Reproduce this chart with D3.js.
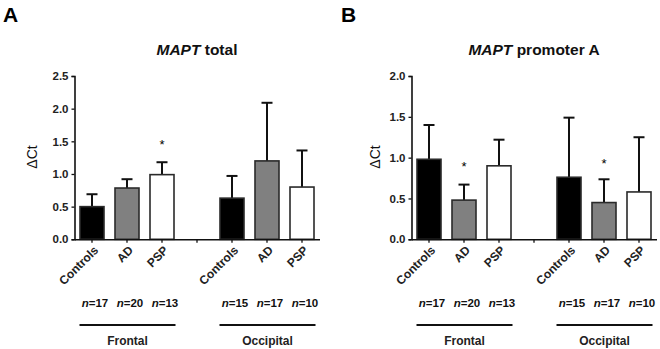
<!DOCTYPE html>
<html><head><meta charset="utf-8">
<script src="https://cdn.jsdelivr.net/npm/d3@7"></script>
<style>
body{margin:0;background:#fff;}
svg{font-family:"Liberation Sans",Arial,sans-serif;font-weight:bold;}
</style></head><body>
<svg id="c" width="660" height="349"></svg>
<script>
// ---- data ----
const categories = ["Controls","AD","PSP","","Controls","AD","PSP"];
const groupColors = ["#000000","#808080","#ffffff","","#000000","#808080","#ffffff"];
const nCounts = ["17","20","13","","15","17","10"];
const regions = ["Frontal","Occipital"];
const totalMeans = [0.50,0.785,0.99,null,0.63,1.20,0.80];
const totalErr   = [0.69,0.92,1.18,null,0.97,2.09,1.36];
const totalStars = [null,null,1.48,null,null,null,null];
const totalTicks = [0.0,0.5,1.0,1.5,2.0,2.5];
const promMeans = [0.98,0.48,0.90,null,0.76,0.45,0.58];
const promErr   = [1.40,0.67,1.22,null,1.49,0.735,1.25];
const promStars = [null,0.91,null,null,null,0.95,null];
const promTicks = [0.0,0.5,1.0,1.5,2.0];

const svg = d3.select("#c");

function panel(opt){
  const g = svg.append("g");
  const x = d3.scaleBand().domain(d3.range(categories.length)).range([opt.x0, opt.x0+245]).paddingInner(0).paddingOuter(0);
  const y = d3.scaleLinear().domain([0, opt.ymax]).range([239.3, 76]);
  const bw = 25;
  // panel letter
  g.append("text").attr("x", opt.letterX).attr("y", 21.5).attr("font-size", 21).text(opt.letter);
  // title
  const t = g.append("text").attr("x", opt.titleX).attr("y", 54.5).attr("font-size", 15.5).attr("text-anchor","middle").attr("fill","#111");
  t.append("tspan").attr("font-style","italic").text("MAPT");
  t.append("tspan").text(" " + opt.title);
  // y axis
  const ya = g.append("g").attr("transform", `translate(${opt.x0},0)`)
    .call(d3.axisLeft(y).tickValues(opt.ticks).tickFormat(d3.format(".1f")).tickSize(3).tickPadding(3));
  ya.select(".domain").attr("stroke","#111").attr("stroke-width",1.6);
  ya.selectAll(".tick line").attr("stroke","#111").attr("stroke-width",1.3);
  ya.selectAll("text").attr("font-size",11.5).attr("font-weight","bold").attr("font-family","Liberation Sans, Arial, sans-serif").attr("fill","#222");
  // y label
  g.append("text").attr("transform", `translate(${opt.ylabX},157) rotate(-90)`).attr("text-anchor","middle").attr("font-size",14).attr("font-weight","normal").attr("fill","#111").text("ΔCt");
  // bars
  const idx = d3.range(categories.length).filter(i => opt.means[i] != null);
  g.selectAll(".err").data(idx).join("g").each(function(i){
    const cx = x(i) + x.bandwidth()/2;
    const s = d3.select(this);
    s.append("line").attr("x1",cx).attr("x2",cx).attr("y1",y(opt.means[i])).attr("y2",y(opt.err[i])).attr("stroke","#111").attr("stroke-width",2);
    s.append("line").attr("x1",cx-5.5).attr("x2",cx+5.5).attr("y1",y(opt.err[i])).attr("y2",y(opt.err[i])).attr("stroke","#111").attr("stroke-width",2);
  });
  g.selectAll(".bar").data(idx).join("rect")
    .attr("x", i => x(i) + (x.bandwidth()-bw)/2 + 0.5)
    .attr("width", bw - 1)
    .attr("y", i => y(opt.means[i]))
    .attr("height", i => y(0) - y(opt.means[i]))
    .attr("fill", i => groupColors[i])
    .attr("stroke", "#2a2a2a").attr("stroke-width", 1.6);
  // x axis
  const xa = g.append("g").attr("transform", "translate(0,239.3)")
    .call(d3.axisBottom(x).tickSize(3.5).tickSizeOuter(0).tickFormat(""));
  xa.select(".domain").attr("stroke","#111").attr("stroke-width",1.6);
  xa.selectAll(".tick line").attr("stroke","#111").attr("stroke-width",1.3);
  // x labels rotated
  g.selectAll(".xl").data(idx).join("text")
    .attr("transform", i => `translate(${x(i)+x.bandwidth()/2+4},248) rotate(-45)`)
    .attr("text-anchor","end").attr("font-size",12).attr("dy","0.35em").attr("fill","#222")
    .text(i => categories[i]);
  // stars
  g.selectAll(".star").data(idx.filter(i => opt.stars[i] != null)).join("text")
    .attr("x", i => x(i)+x.bandwidth()/2).attr("y", i => y(opt.stars[i]) + 6.5)
    .attr("text-anchor","middle").attr("font-size",13).attr("font-weight","normal").text("*");
  // n labels
  g.selectAll(".nl").data(idx).join("text")
    .attr("x", i => x(i)+x.bandwidth()/2+3).attr("y", 307)
    .attr("text-anchor","middle").attr("font-size",11.5).attr("fill","#111")
    .each(function(i){
      const s = d3.select(this);
      s.append("tspan").attr("font-style","italic").text("n");
      s.append("tspan").text("=" + nCounts[i]);
    });
  // region lines
  [[0,2],[4,6]].forEach((r,k) => {
    const xa0 = x(r[0]) + (x.bandwidth()-bw)/2;
    const xa1 = x(r[1]) + (x.bandwidth()+bw)/2 + 1;
    g.append("line").attr("x1",xa0).attr("x2",xa1).attr("y1",325).attr("y2",325).attr("stroke","#111").attr("stroke-width",2);
    g.append("text").attr("x",(xa0+xa1)/2).attr("y",344.5).attr("text-anchor","middle").attr("font-size",12).attr("fill","#222").text(regions[k]);
  });
}

panel({x0:74.5, ymax:2.5, ticks: totalTicks, means: totalMeans, err: totalErr, stars: totalStars,
  letter:"A", letterX:3, title:"total", titleX:197, ylabX:37});
panel({x0:411.5, ymax:2.0, ticks: promTicks, means: promMeans, err: promErr, stars: promStars,
  letter:"B", letterX:341, title:"promoter A", titleX:534, ylabX:380});
</script></body></html>
